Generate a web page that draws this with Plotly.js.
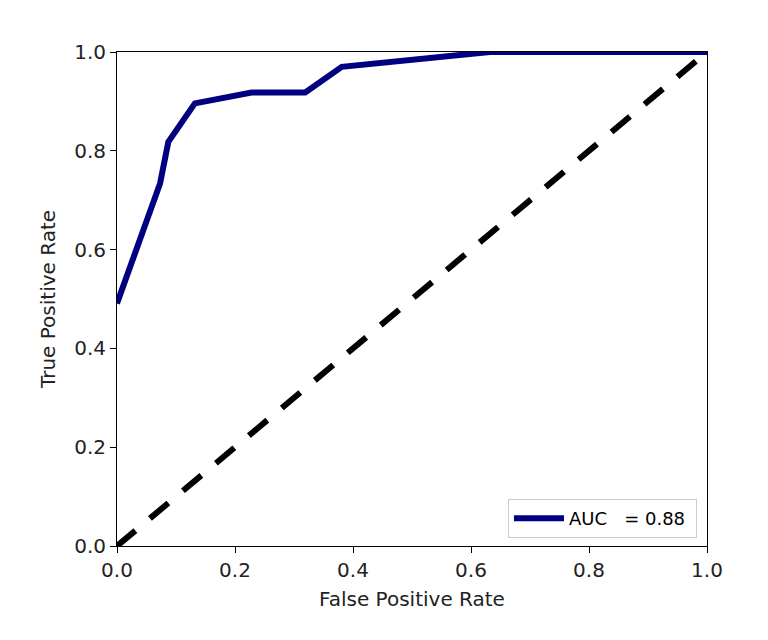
<!DOCTYPE html>
<html>
<head>
<meta charset="utf-8">
<script src="https://cdn.plot.ly/plotly-3.0.1.min.js"></script>
<style>html,body{margin:0;padding:0;background:#fff;}#chart{width:768px;height:640px;}</style>
</head>
<body>
<div id="chart"></div>
<script>
const fpr = [0.0, 0.073, 0.087, 0.132, 0.228, 0.319, 0.381, 0.632, 1.0];
const tpr = [0.491, 0.734, 0.818, 0.896, 0.918, 0.918, 0.970, 1.0, 1.0];
const diagX = [0, 1];
const diagY = [0, 1];
const rocLabel = "AUC   = 0.88 ";
const tickVals = [0, 0.2, 0.4, 0.6, 0.8, 1.0];
const tickText = ["0.0", "0.2", "0.4", "0.6", "0.8", "1.0"];

const font = {family: "DejaVu Sans, sans-serif", size: 20, color: "#222"};

const traces = [
  {x: fpr, y: tpr, mode: "lines", name: rocLabel,
   line: {color: "#000080", width: 6}},
  {x: diagX, y: diagY, mode: "lines", showlegend: false,
   line: {color: "#000000", width: 6, dash: "24px,19px"}}
];

const axisCommon = {
  range: [0, 1], tickvals: tickVals, ticktext: tickText,
  showgrid: false, zeroline: false, showline: true, mirror: true,
  linecolor: "#000", linewidth: 1, ticks: "outside", ticklen: 6,
  tickcolor: "#000", tickfont: font
};

const layout = {
  width: 768, height: 640,
  margin: {l: 117, r: 61, t: 52, b: 94},
  paper_bgcolor: "#fff", plot_bgcolor: "#fff",
  font: font,
  xaxis: Object.assign({}, axisCommon, {title: {text: "False Positive Rate", font: font, standoff: 10}}),
  yaxis: Object.assign({}, axisCommon, {title: {text: "True Positive Rate", font: font, standoff: 13}}),
  showlegend: true,
  legend: {x: 0.983, y: 0.016, xanchor: "right", yanchor: "bottom", itemwidth: 50,
           bordercolor: "#ccc", borderwidth: 1, bgcolor: "rgba(255,255,255,0.8)",
           font: {family: "DejaVu Sans, sans-serif", size: 18, color: "#000"}}
};

Plotly.newPlot("chart", traces, layout, {staticPlot: true, displayModeBar: false});
</script>
</body>
</html>
